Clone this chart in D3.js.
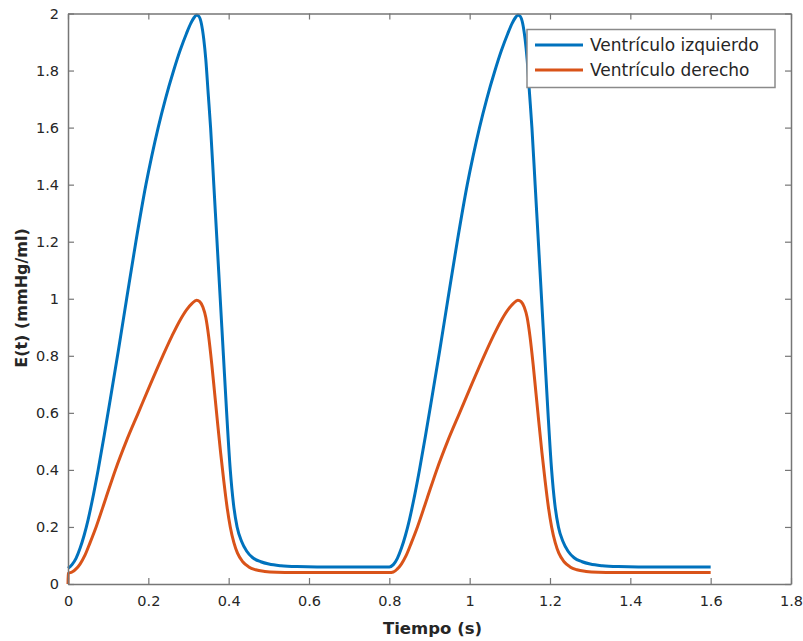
<!DOCTYPE html>
<html>
<head>
<meta charset="utf-8">
<script src="https://cdn.jsdelivr.net/npm/d3@7/dist/d3.min.js"></script>
<style>
  html, body { margin: 0; padding: 0; background: #fff; }
  svg { display: block; }
  text { font-family: "DejaVu Sans", sans-serif; fill: #262626; }
</style>
</head>
<body>
<svg id="chart" width="803" height="641"></svg>
<script>
// ---- Data ----
const xTicks = [0, 0.2, 0.4, 0.6, 0.8, 1, 1.2, 1.4, 1.6, 1.8];
const yTicks = [0, 0.2, 0.4, 0.6, 0.8, 1, 1.2, 1.4, 1.6, 1.8, 2];
const seriesNames = ["Ventrículo izquierdo", "Ventrículo derecho"];
const seriesColors = ["#0072BD", "#D95319"];

// Left ventricle: time (s)
const lvTime = [
  0, 0.01, 0.02, 0.03, 0.04, 0.05, 0.06, 0.075, 0.09, 0.105, 0.125, 0.146, 0.169, 0.194, 0.2085, 0.2245, 0.2425, 0.263,
  0.279, 0.295, 0.306, 0.314, 0.32, 0.326, 0.332, 0.338, 0.343, 0.349, 0.355, 0.363, 0.371, 0.379, 0.387, 0.395,
  0.404, 0.412, 0.421, 0.432, 0.445, 0.46, 0.48, 0.5, 0.53, 0.57, 0.62, 0.8,
  0.81, 0.82, 0.83, 0.84, 0.85, 0.86, 0.875, 0.89, 0.905, 0.925, 0.946, 0.969, 0.994, 1.0085, 1.0245, 1.0425, 1.063,
  1.079, 1.095, 1.106, 1.114, 1.12, 1.126, 1.132, 1.138, 1.143, 1.149, 1.155, 1.163, 1.171, 1.179, 1.187, 1.195,
  1.204, 1.212, 1.221, 1.232, 1.245, 1.26, 1.28, 1.3, 1.33, 1.37, 1.42, 1.6
];
// Left ventricle: elastance (mmHg/ml)
const lvValue = [
  0.055, 0.068, 0.09, 0.125, 0.17, 0.225, 0.29, 0.4, 0.52, 0.645, 0.815, 1.0, 1.2, 1.4, 1.5, 1.6, 1.7, 1.8,
  1.87, 1.93, 1.966, 1.986, 1.995, 1.99, 1.965, 1.91, 1.84, 1.72, 1.6, 1.4, 1.2, 1.0, 0.8, 0.6,
  0.4, 0.28, 0.2, 0.15, 0.115, 0.092, 0.078, 0.07, 0.064, 0.061, 0.06, 0.06,
  0.068, 0.09, 0.125, 0.17, 0.225, 0.29, 0.4, 0.52, 0.645, 0.815, 1.0, 1.2, 1.4, 1.5, 1.6, 1.7, 1.8,
  1.87, 1.93, 1.966, 1.986, 1.995, 1.99, 1.965, 1.91, 1.84, 1.72, 1.6, 1.4, 1.2, 1.0, 0.8, 0.6,
  0.4, 0.28, 0.2, 0.15, 0.115, 0.092, 0.078, 0.07, 0.064, 0.061, 0.06, 0.06
];

// Right ventricle: time (s)
const rvTime = [
  0, 0.0005, 0.01, 0.02, 0.03, 0.042, 0.055, 0.07, 0.094, 0.118, 0.145, 0.175, 0.205, 0.236, 0.259, 0.279, 0.296,
  0.309, 0.32, 0.328, 0.336, 0.343, 0.35, 0.358, 0.365, 0.372, 0.38, 0.388, 0.396, 0.404, 0.413, 0.422, 0.435,
  0.45, 0.467, 0.49, 0.52, 0.56, 0.8,
  0.81, 0.82, 0.83, 0.842, 0.855, 0.87, 0.894, 0.918, 0.945, 0.975, 1.005, 1.036, 1.059, 1.079, 1.096,
  1.109, 1.12, 1.128, 1.136, 1.143, 1.15, 1.158, 1.165, 1.172, 1.18, 1.188, 1.196, 1.204, 1.213, 1.222, 1.235,
  1.25, 1.267, 1.29, 1.32, 1.36, 1.6
];
// Right ventricle: elastance (mmHg/ml)
const rvValue = [
  0, 0.037, 0.042, 0.053, 0.07, 0.1, 0.145, 0.2, 0.3, 0.4, 0.5, 0.6, 0.7, 0.8, 0.87, 0.925, 0.963,
  0.984, 0.995, 0.99, 0.97, 0.935, 0.87, 0.77, 0.67, 0.57, 0.46, 0.36, 0.27, 0.2, 0.145, 0.108, 0.078,
  0.06, 0.05, 0.044, 0.041, 0.04, 0.04,
  0.042, 0.053, 0.07, 0.1, 0.145, 0.2, 0.3, 0.4, 0.5, 0.6, 0.7, 0.8, 0.87, 0.925, 0.963,
  0.984, 0.995, 0.99, 0.97, 0.935, 0.87, 0.77, 0.67, 0.57, 0.46, 0.36, 0.27, 0.2, 0.145, 0.108, 0.078,
  0.06, 0.05, 0.044, 0.041, 0.04, 0.04
];

const xLabel = "Tiempo (s)";
const yLabel = "E(t) (mmHg/ml)";

// ---- Layout ----
const svg = d3.select("#chart");
const plot = { left: 68, right: 791, top: 13.5, bottom: 584 };
const x = d3.scaleLinear().domain([0, 1.8]).range([plot.left, plot.right]);
const y = d3.scaleLinear().domain([0, 2]).range([plot.bottom, plot.top]);
const axisColor = "#767676";
const tickLen = 6;

const series = [
  { name: seriesNames[0], color: seriesColors[0], pts: lvTime.map((t, i) => [t, lvValue[i]]) },
  { name: seriesNames[1], color: seriesColors[1], pts: rvTime.map((t, i) => [t, rvValue[i]]) }
];

const line = d3.line()
  .x(d => x(d[0]))
  .y(d => y(d[1]))
  .curve(d3.curveMonotoneX);

svg.append("clipPath").attr("id", "clip")
  .append("rect")
  .attr("x", plot.left - 2).attr("y", plot.top - 2)
  .attr("width", plot.right - plot.left + 2).attr("height", plot.bottom - plot.top + 2);

svg.append("g").attr("clip-path", "url(#clip)")
  .selectAll("path.series")
  .data(series)
  .join("path")
  .attr("class", "series")
  .attr("d", d => line(d.pts))
  .attr("fill", "none")
  .attr("stroke", d => d.color)
  .attr("stroke-width", 3)
  .attr("stroke-linejoin", "round")
  .attr("stroke-linecap", "butt");

// ---- Axes (MATLAB-like box with inward ticks) ----
const fontTick = 14.5;
const xAxisB = d3.axisBottom(x).tickValues(xTicks).tickSizeInner(-tickLen).tickSizeOuter(0)
  .tickPadding(12).tickFormat(d3.format("~g"));
const xAxisT = d3.axisTop(x).tickValues(xTicks).tickSizeInner(-tickLen).tickSizeOuter(0).tickFormat("");
const yAxisL = d3.axisLeft(y).tickValues(yTicks).tickSizeInner(-tickLen).tickSizeOuter(0)
  .tickPadding(9).tickFormat(d3.format("~g"));
const yAxisR = d3.axisRight(y).tickValues(yTicks).tickSizeInner(-tickLen).tickSizeOuter(0).tickFormat("");

function styleAxis(g) {
  g.select(".domain").attr("stroke", axisColor).attr("stroke-width", 1.5);
  g.selectAll(".tick line").attr("stroke", axisColor).attr("stroke-width", 1.2);
  g.selectAll(".tick text").attr("fill", "#262626").style("font-size", fontTick + "px")
    .style("font-family", "'DejaVu Sans', sans-serif");
}

svg.append("g").attr("transform", `translate(0,${plot.bottom})`).call(xAxisB).call(styleAxis);
svg.append("g").attr("transform", `translate(0,${plot.top})`).call(xAxisT).call(styleAxis);
svg.append("g").attr("transform", `translate(${plot.left},0)`).call(yAxisL).call(styleAxis);
svg.append("g").attr("transform", `translate(${plot.right},0)`).call(yAxisR).call(styleAxis);

// ---- Axis labels ----
svg.append("text")
  .attr("x", (plot.left + plot.right) / 2 + 3)
  .attr("y", 634)
  .attr("text-anchor", "middle")
  .style("font-size", "16.5px")
  .style("font-weight", "bold")
  .text(xLabel);

svg.append("text")
  .attr("transform", `translate(27,${298}) rotate(-90)`)
  .attr("text-anchor", "middle")
  .style("font-size", "16px")
  .style("font-weight", "bold")
  .text(yLabel);

// ---- Legend ----
const legend = svg.append("g");
legend.append("rect")
  .attr("x", 527).attr("y", 29.5)
  .attr("width", 248).attr("height", 58)
  .attr("fill", "#fff")
  .attr("stroke", "#8a8a8a")
  .attr("stroke-width", 1.5);

const legendRows = legend.selectAll("g.row").data(series).join("g")
  .attr("class", "row")
  .attr("transform", (d, i) => `translate(0,${45 + i * 25})`);
legendRows.append("line")
  .attr("x1", 535).attr("x2", 583)
  .attr("stroke", d => d.color).attr("stroke-width", 3);
legendRows.append("text")
  .attr("x", 590)
  .attr("dy", "0.36em")
  .style("font-size", "17px")
  .text(d => d.name);
</script>
</body>
</html>
